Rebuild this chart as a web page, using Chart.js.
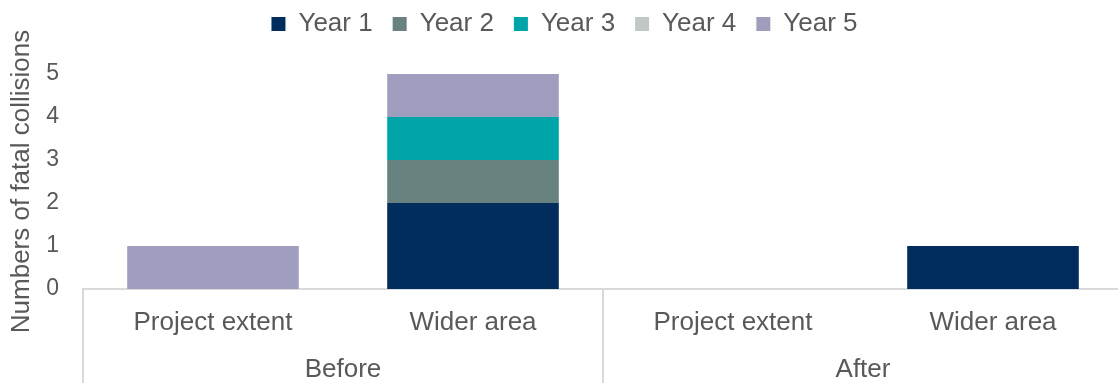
<!DOCTYPE html>
<html>
<head>
<meta charset="utf-8">
<script src="https://cdn.jsdelivr.net/npm/chart.js@4"></script>
<style>
  html, body { margin: 0; padding: 0; overflow: hidden; background: #fff; }
  #wrap { width: 1130px; height: 383px; position: relative; }
</style>
</head>
<body>
<div id="wrap"><canvas id="collisionChart"></canvas></div>
<script>
// categories and their groups
var categories = ['Project extent', 'Wider area', 'Project extent', 'Wider area'];
var groups = ['Before', 'After'];
var groupSize = 2;

// fatal collisions per year
var year1 = [0, 2, 0, 1];
var year2 = [0, 1, 0, 0];
var year3 = [0, 1, 0, 0];
var year4 = [0, 0, 0, 0];
var year5 = [1, 1, 0, 0];

var yTicks = [0, 1, 2, 3, 4, 5];

var textColor = '#595959';
var lineColor = '#d9d9d9';
var fontFamily = '"Liberation Sans", Arial, sans-serif';

// extra space under the legend
var legendGap = {
  id: 'legendGap',
  beforeInit: function(chart) {
    var fit = chart.legend.fit;
    chart.legend.fit = function() {
      fit.bind(chart.legend)();
      this.height += 27;
    };
  }
};

// draws the Before / After row and the separators under the axis
var groupAxis = {
  id: 'groupAxis',
  afterDraw: function(chart) {
    var ctx = chart.ctx;
    var x = chart.scales.x;
    var top = chart.chartArea.bottom;
    var bottom = chart.height;

    ctx.save();
    ctx.strokeStyle = lineColor;
    ctx.lineWidth = 2;
    var edges = [x.left];
    for (var g = 1; g < groups.length; g++) {
      var i = g * groupSize;
      edges.push((x.getPixelForValue(i - 1) + x.getPixelForValue(i)) / 2);
    }
    edges.push(x.right);
    edges.forEach(function(px) {
      ctx.beginPath();
      ctx.moveTo(px, top);
      ctx.lineTo(px, bottom);
      ctx.stroke();
    });

    ctx.fillStyle = textColor;
    ctx.font = '26px ' + fontFamily;
    ctx.textAlign = 'center';
    ctx.textBaseline = 'middle';
    groups.forEach(function(name, g) {
      var a = x.getPixelForValue(g * groupSize);
      var b = x.getPixelForValue(g * groupSize + groupSize - 1);
      ctx.fillText(name, (a + b) / 2, 370);
    });
    ctx.restore();
  }
};

var ctx = document.getElementById('collisionChart').getContext('2d');
new Chart(ctx, {
  type: 'bar',
  data: {
    labels: categories,
    datasets: [
      { label: 'Year 1', data: year1, backgroundColor: '#002D5C' },
      { label: 'Year 2', data: year2, backgroundColor: '#68827F' },
      { label: 'Year 3', data: year3, backgroundColor: '#00A5AA' },
      { label: 'Year 4', data: year4, backgroundColor: '#BFC8C6' },
      { label: 'Year 5', data: year5, backgroundColor: '#A09EBF' }
    ]
  },
  options: {
    responsive: true,
    maintainAspectRatio: false,
    animation: false,
    layout: { padding: { left: 6, right: 7, top: -9, bottom: 0 } },
    datasets: {
      bar: { categoryPercentage: 1, barPercentage: 0.66, borderWidth: 0 }
    },
    plugins: {
      legend: {
        position: 'top',
        labels: {
          boxWidth: 14,
          boxHeight: 14,
          padding: 20,
          color: textColor,
          font: { family: fontFamily, size: 26 }
        }
      },
      tooltip: { enabled: false }
    },
    scales: {
      x: {
        stacked: true,
        grid: { display: false, drawTicks: false },
        border: { display: true, color: lineColor, width: 2 },
        ticks: {
          color: textColor,
          padding: 18,
          font: { family: fontFamily, size: 26 }
        },
        afterFit: function(scale) { scale.height = 94; }
      },
      y: {
        stacked: true,
        min: yTicks[0],
        max: yTicks[yTicks.length - 1],
        grid: { display: false, drawTicks: false },
        border: { display: false },
        afterBuildTicks: function(scale) {
          scale.ticks = yTicks.map(function(v) { return { value: v }; });
        },
        ticks: {
          color: textColor,
          padding: 24,
          font: { family: fontFamily, size: 23 }
        },
        title: {
          display: true,
          text: 'Numbers of fatal collisions',
          color: textColor,
          padding: 0,
          font: { family: fontFamily, size: 26 }
        },
        afterFit: function(scale) { scale.width = 77; }
      }
    }
  },
  plugins: [legendGap, groupAxis]
});
</script>
</body>
</html>
